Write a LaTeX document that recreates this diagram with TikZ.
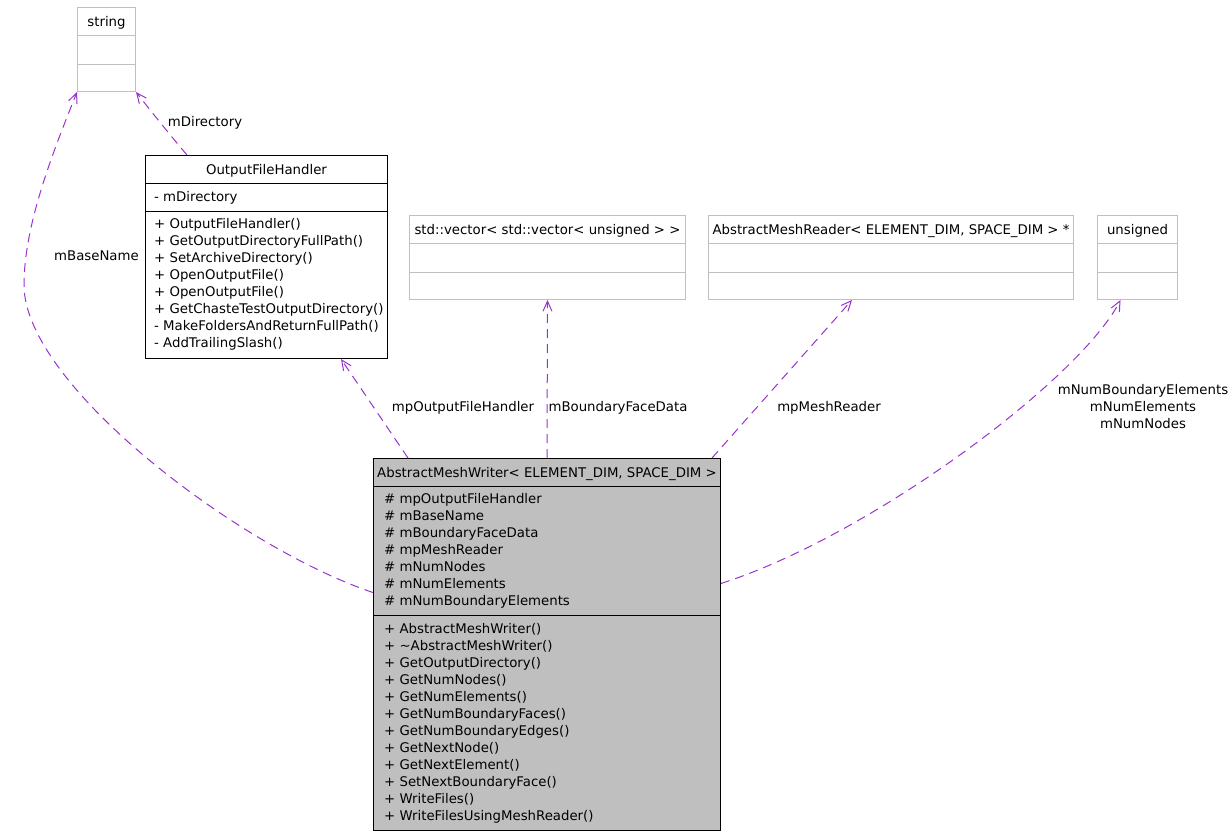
\documentclass[tikz,border=0pt]{standalone}
\usepackage{fontspec}
\setmainfont{DejaVu Sans}
\usetikzlibrary{arrows.meta}
\definecolor{usecol}{HTML}{9A32CD}
\definecolor{extgray}{HTML}{BFBFBF}

\begin{document}
\begin{tikzpicture}[x=1pt,y=-1pt,font=\fontsize{13.3}{17}\selectfont,
  cls/.style={draw=black,line width=1pt,anchor=north west,inner sep=0pt},
  ext/.style={cls,draw=extgray},
  members/.style={anchor=base west,align=left,inner sep=0pt},
  title/.style={anchor=base,inner sep=0pt},
  lbl/.style={anchor=base,align=center,inner sep=0pt},
  uses/.style={draw=usecol,line width=1pt,dash pattern=on 9pt off 6pt,
    -{Straight Barb[length=10pt,width=9pt]}}]
  \useasboundingbox (0,0) rectangle (1229,835);

  % types used by the writer
  \node[ext,minimum width=58pt,minimum height=84pt] (string) at (77,7) {};
  \node[ext,minimum width=276pt,minimum height=84pt] (vec) at (409,215) {};
  \node[ext,minimum width=365pt,minimum height=84pt] (reader) at (708,215) {};
  \node[ext,minimum width=80pt,minimum height=84pt] (unsig) at (1097,215) {};
  \foreach \b in {string,vec,reader,unsig}{
    \draw[extgray,line width=1pt] ([yshift=-28pt]\b.north west) -- ([yshift=-28pt]\b.north east);
    \draw[extgray,line width=1pt] ([yshift=28pt]\b.south west) -- ([yshift=28pt]\b.south east);
  }
  \node[title] (stringT) at ([yshift=-19pt]string.north) {string};
  \node[title] (vecT) at ([yshift=-19pt]vec.north) {std::vector< std::vector< unsigned > >};
  \node[title] (readerT) at ([yshift=-19pt]reader.north) {AbstractMeshReader< ELEMENT\_DIM, SPACE\_DIM > *};
  \node[title] (unsigT) at ([yshift=-19pt]unsig.north) {unsigned};

  % output file handler
  \node[cls,minimum width=242pt,minimum height=203pt] (ofh) at (145,155) {};
  \draw[line width=1pt] ([yshift=-28pt]ofh.north west) -- ([yshift=-28pt]ofh.north east);
  \draw[line width=1pt] ([yshift=-56pt]ofh.north west) -- ([yshift=-56pt]ofh.north east);
  \node[title] (ofhT) at ([yshift=-19pt]ofh.north) {OutputFileHandler};
  \node[members] (ofhA) at ([xshift=9pt,yshift=-46.5pt]ofh.north west) {- mDirectory};
  % base of a multi-line node is its last line
  \node[members] (ofhM) at ([xshift=9pt,yshift=-192pt]ofh.north west) {+ OutputFileHandler()\\
    + GetOutputDirectoryFullPath()\\
    + SetArchiveDirectory()\\
    + OpenOutputFile()\\
    + OpenOutputFile()\\
    + GetChasteTestOutputDirectory()\\
    - MakeFoldersAndReturnFullPath()\\
    - AddTrailingSlash()};

  % the writer itself
  \node[cls,fill=extgray,minimum width=347pt,minimum height=372pt] (amw) at (373,458) {};
  \draw[line width=1pt] ([yshift=-28pt]amw.north west) -- ([yshift=-28pt]amw.north east);
  \draw[line width=1pt] ([yshift=-157pt]amw.north west) -- ([yshift=-157pt]amw.north east);
  \node[title] (amwT) at ([yshift=-19pt]amw.north) {AbstractMeshWriter< ELEMENT\_DIM, SPACE\_DIM >};
  \node[members] (amwA) at ([xshift=11pt,yshift=-147.5pt]amw.north west) {\# mpOutputFileHandler\\
    \# mBaseName\\
    \# mBoundaryFaceData\\
    \# mpMeshReader\\
    \# mNumNodes\\
    \# mNumElements\\
    \# mNumBoundaryElements};
  \node[members] (amwM) at ([xshift=11pt,yshift=-362pt]amw.north west) {+ AbstractMeshWriter()\\
    + \textasciitilde AbstractMeshWriter()\\
    + GetOutputDirectory()\\
    + GetNumNodes()\\
    + GetNumElements()\\
    + GetNumBoundaryFaces()\\
    + GetNumBoundaryEdges()\\
    + GetNextNode()\\
    + GetNextElement()\\
    + SetNextBoundaryFace()\\
    + WriteFiles()\\
    + WriteFilesUsingMeshReader()};

  % usage relations
  \draw[uses] ([xshift=42pt]ofh.north west) .. controls (170,135) and (150,110) .. (string.south east);
  \draw[uses] ([yshift=52pt]amw.west) .. controls (240,548) and (24,385) .. (24,285)
    .. controls (24,225) and (53,152) .. (string.south west);
  \draw[uses] ([xshift=35pt]amw.north west) -- ([xshift=-47pt]ofh.south east);
  \draw[uses] (amw.north) -- (vec.south);
  \draw[uses] ([xshift=-9pt]amw.north east) -- ([xshift=144pt]reader.south west);
  \draw[uses] ([yshift=61pt]amw.east) .. controls (872,535) and (1080,379) .. ([xshift=-17pt]unsig.south);

  \node[lbl] (lDir) at (205,126.5) {mDirectory};
  \node[lbl] (lBase) at (96.5,260) {mBaseName};
  \node[lbl] (lOfh) at (463,411) {mpOutputFileHandler};
  \node[lbl] (lFace) at (618,411) {mBoundaryFaceData};
  \node[lbl] (lRead) at (829,411) {mpMeshReader};
  \node[lbl] (lNum) at (1143,428) {mNumBoundaryElements\\mNumElements\\mNumNodes};
\end{tikzpicture}
\end{document}
